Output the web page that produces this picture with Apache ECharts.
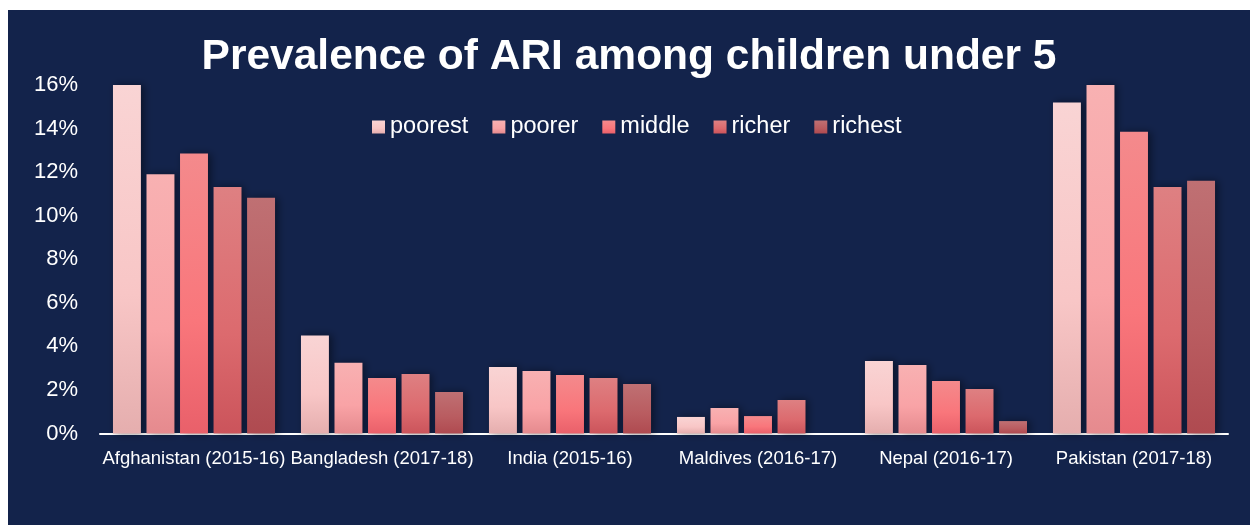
<!DOCTYPE html>
<html>
<head>
<meta charset="utf-8">
<script src="https://cdn.jsdelivr.net/npm/echarts@6/dist/echarts.min.js"></script>
<style>
  html, body { margin: 0; padding: 0; background: #ffffff; width: 1250px; height: 525px; overflow: hidden; }
  #chart { position: absolute; left: 8px; top: 10px; width: 1242px; height: 515px; background: #13234B; }
</style>
</head>
<body>
<div id="chart"></div>
<script>
const categories = ["Afghanistan (2015-16)", "Bangladesh (2017-18)", "India (2015-16)", "Maldives (2016-17)", "Nepal (2016-17)", "Pakistan (2017-18)"];
const seriesNames = ["poorest", "poorer", "middle", "richer", "richest"];
const poorest = [16.0, 4.5, 3.05, 0.76, 3.33, 15.2];
const poorer  = [11.9, 3.25, 2.87, 1.17, 3.14, 16.0];
const middle  = [12.85, 2.55, 2.69, 0.80, 2.41, 13.85];
const richer  = [11.32, 2.73, 2.55, 1.54, 2.04, 11.32];
const richest = [10.82, 1.91, 2.27, null, 0.57, 11.6];
const yTicks = [0, 2, 4, 6, 8, 10, 12, 14, 16];

const values = [poorest, poorer, middle, richer, richest];
const gradients = [
  ["#F9D4D4", "#F8C6C6", "#E5AEAE"],
  ["#F8B1B2", "#F9A3A6", "#E58A8E"],
  ["#F48A8C", "#F9767B", "#E9606A"],
  ["#DE8082", "#DC6A6E", "#CB545B"],
  ["#BF7073", "#B95C60", "#AF4A50"]
];

const chart = echarts.init(document.getElementById('chart'), null, { renderer: 'canvas' });
const font = '"Liberation Sans", Arial, sans-serif';

const series = seriesNames.map((name, i) => ({
  name: name,
  type: 'bar',
  data: values[i],
  barGap: '20%',
  barCategoryGap: '13.8%',
  itemStyle: {
    color: new echarts.graphic.LinearGradient(0, 0, 0, 1, [
      { offset: 0, color: gradients[i][0] },
      { offset: 0.6, color: gradients[i][1] },
      { offset: 1, color: gradients[i][2] }
    ]),
    shadowColor: 'rgba(0,0,0,0.45)',
    shadowBlur: 8,
    shadowOffsetX: 3,
    shadowOffsetY: 0
  },
  emphasis: { disabled: true }
}));

chart.setOption({
  backgroundColor: '#13234B',
  animation: false,
  title: {
    text: 'Prevalence of ARI among children under 5',
    left: 'center',
    top: 21,
    textStyle: { color: '#ffffff', fontSize: 42.5, fontWeight: 'bold', fontFamily: font }
  },
  legend: {
    data: seriesNames,
    top: 100,
    left: 359,
    itemWidth: 13,
    itemHeight: 13,
    itemGap: 24,
    icon: 'rect',
    textStyle: { color: '#ffffff', fontSize: 23.5, fontFamily: font }
  },
  grid: { left: 92, right: 22, top: 75, bottom: 91.5, containLabel: false },
  xAxis: {
    type: 'category',
    data: categories,
    axisLine: { show: true, lineStyle: { color: '#ffffff', width: 2 } },
    axisTick: { show: false },
    axisLabel: { color: '#ffffff', fontSize: 18.5, fontFamily: font, margin: 16, interval: 0 }
  },
  yAxis: {
    type: 'value',
    min: yTicks[0],
    max: yTicks[yTicks.length - 1],
    interval: 2,
    splitLine: { show: false },
    axisLine: { show: false },
    axisTick: { show: false },
    axisLabel: { color: '#ffffff', fontSize: 22, fontFamily: font, margin: 22, formatter: '{value}%' }
  },
  series: series
});
</script>
</body>
</html>
